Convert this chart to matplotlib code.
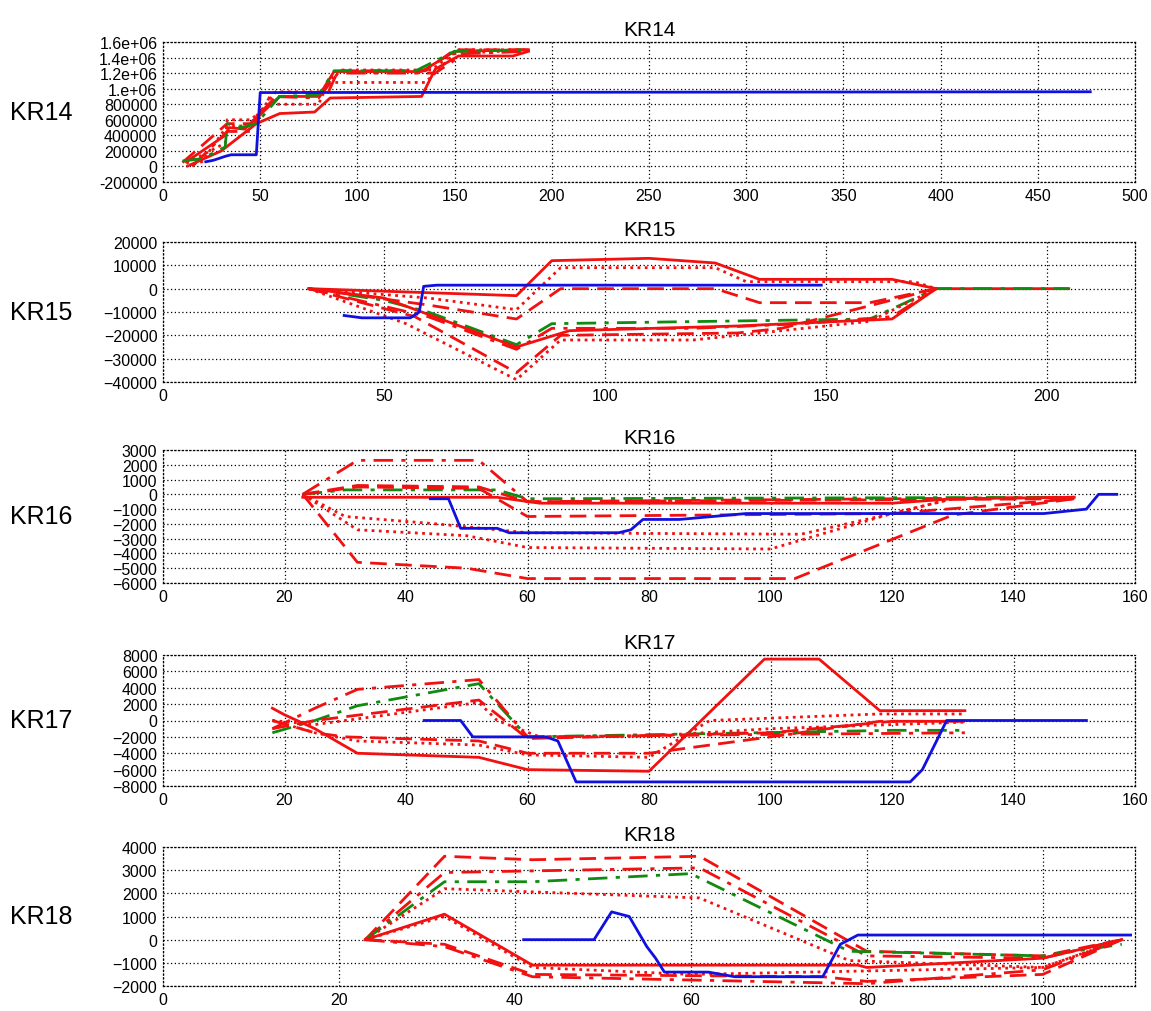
import matplotlib
matplotlib.use('Agg')
import matplotlib.pyplot as plt
from matplotlib.ticker import FixedLocator, FixedFormatter

plt.rcParams['font.family'] = ['Liberation Sans', 'DejaVu Sans']

# ---- data ----
panel_names = ['KR14', 'KR15', 'KR16', 'KR17', 'KR18']

# KR14
kr14_blue_x = [22, 26, 32, 35, 48, 50, 477]
kr14_blue_y = [60000, 80000, 130000, 150000, 150000, 950000, 960000]
kr14_green_x = [10, 20, 32, 33, 40, 48, 60, 80, 88, 130, 150, 188]
kr14_green_y = [70000, 100000, 250000, 550000, 500000, 550000, 900000, 920000, 1230000, 1230000, 1480000, 1500000]
kr14_red_solid_x = [12, 32, 34, 42, 60, 80, 88, 133, 150, 188]
kr14_red_solid_y = [60000, 400000, 500000, 480000, 900000, 900000, 1220000, 1220000, 1480000, 1500000]
kr14_red_solid2_x = [14, 30, 48, 60, 78, 86, 133, 140, 152, 180, 188]
kr14_red_solid2_y = [20000, 200000, 550000, 680000, 700000, 880000, 900000, 1250000, 1420000, 1420000, 1480000]
kr14_red_dot_x = [12, 32, 33, 45, 55, 80, 85, 135, 150, 188]
kr14_red_dot_y = [40000, 300000, 600000, 600000, 800000, 800000, 1080000, 1080000, 1450000, 1500000]
kr14_red_dash_x = [10, 33, 45, 60, 85, 90, 135, 150, 188]
kr14_red_dash_y = [50000, 550000, 550000, 950000, 950000, 1230000, 1230000, 1500000, 1500000]
kr14_red_dashdot_x = [15, 33, 45, 55, 80, 90, 140, 155, 188]
kr14_red_dashdot_y = [0, 450000, 450000, 900000, 880000, 1200000, 1200000, 1450000, 1480000]
kr14_red_dot2_x = [12, 20, 33, 44, 58, 82, 90, 138, 152, 188]
kr14_red_dot2_y = [0, 60000, 520000, 520000, 960000, 960000, 1240000, 1240000, 1500000, 1500000]

# KR15
kr15_blue_x = [41, 45, 56, 58, 59, 62, 149]
kr15_blue_y = [-11500, -12500, -12500, -10000, 1000, 1500, 1500]
kr15_green_x = [33, 50, 60, 80, 88, 160, 175, 205]
kr15_green_y = [0, -5000, -10000, -24000, -15000, -13000, 0, 0]
kr15_red_solid_x = [33, 80, 88, 110, 125, 135, 165, 175, 205]
kr15_red_solid_y = [0, -3000, 12000, 13000, 11000, 4000, 4000, 0, 0]
kr15_red_dot_x = [33, 60, 80, 90, 125, 132, 170, 175]
kr15_red_dot_y = [0, -4000, -9000, 9000, 9000, 3000, 3000, 0]
kr15_red_dash_x = [33, 60, 80, 90, 125, 135, 160, 175]
kr15_red_dash_y = [0, -7000, -13000, 0, 0, -6000, -6000, 0]
kr15_red_dashdot_x = [33, 60, 80, 88, 120, 145, 165, 175]
kr15_red_dashdot_y = [0, -12000, -26000, -17000, -17000, -15000, -12000, 0]
kr15_red_solid2_x = [33, 50, 80, 92, 130, 165, 175]
kr15_red_solid2_y = [0, -4000, -25000, -18000, -16000, -13000, 0]
kr15_red_dash2_x = [33, 57, 80, 90, 130, 140, 175]
kr15_red_dash2_y = [0, -12000, -36000, -20000, -19000, -17000, 0]
kr15_red_dot2_x = [33, 55, 80, 90, 120, 160, 175]
kr15_red_dot2_y = [0, -15000, -39000, -22000, -22000, -14000, 0]

# KR16
kr16_blue_x = [44, 47, 49, 55, 57, 75, 77, 79, 85, 96, 145, 152, 154, 157]
kr16_blue_y = [-300, -300, -2300, -2300, -2600, -2600, -2400, -1700, -1700, -1300, -1300, -1000, 0, 0]
kr16_green_x = [23, 30, 55, 60, 150]
kr16_green_y = [0, 300, 300, -300, -200]
kr16_red_dashdot_x = [23, 32, 52, 60, 150]
kr16_red_dashdot_y = [0, 2300, 2300, -500, -200]
kr16_red_dash_x = [23, 32, 52, 60, 150]
kr16_red_dash_y = [0, 600, 500, -500, -300]
kr16_red_solid_x = [23, 55, 62, 120, 130, 150]
kr16_red_solid_y = [-200, -200, -600, -600, -300, -200]
kr16_red_dash2_x = [23, 32, 52, 60, 120, 150]
kr16_red_dash2_y = [0, 500, 400, -1500, -1300, -300]
kr16_red_dot_x = [23, 30, 45, 60, 105, 120, 130]
kr16_red_dot_y = [0, -1500, -2000, -2600, -2700, -1300, -300]
kr16_red_dot2_x = [23, 32, 50, 60, 100, 120, 130]
kr16_red_dot2_y = [0, -2400, -2800, -3600, -3700, -1300, -300]
kr16_red_dash3_x = [23, 32, 50, 60, 104, 130, 150]
kr16_red_dash3_y = [0, -4600, -5000, -5700, -5700, -1400, -300]

# KR17
kr17_blue_x = [43, 49, 51, 63, 65, 68, 123, 125, 127, 129, 152]
kr17_blue_y = [0, 0, -2000, -2000, -2500, -7500, -7500, -6000, -3000, 0, 0]
kr17_green_x = [18, 25, 32, 52, 60, 120, 132]
kr17_green_y = [-1500, 0, 1800, 4500, -2000, -1200, -1200]
kr17_red_solid_x = [18, 20, 25, 32, 52, 60, 80, 99, 108, 118, 132]
kr17_red_solid_y = [1500, 700, -1000, -4000, -4500, -6000, -6200, 7500, 7500, 1200, 1200]
kr17_red_dot_x = [18, 25, 32, 52, 60, 80, 90, 118, 132]
kr17_red_dot_y = [0, -1500, -2500, -3000, -4200, -4500, 0, 800, 800]
kr17_red_dash_x = [18, 25, 30, 52, 60, 80, 100, 118, 132]
kr17_red_dash_y = [0, -1500, -2000, -2500, -4000, -4000, -2000, -100, -100]
kr17_red_dashdot_x = [18, 25, 32, 52, 60, 100, 132]
kr17_red_dashdot_y = [-1000, 1500, 3800, 5000, -2000, -1700, -1500]
kr17_red_dash2_x = [18, 25, 52, 60, 100, 120, 132]
kr17_red_dash2_y = [-1000, 0, 2500, -2200, -1500, -100, -100]
kr17_red_dot2_x = [18, 25, 52, 55, 62, 80, 100, 132]
kr17_red_dot2_y = [0, -500, 2200, 0, -2000, -1900, -1000, -200]

# KR18
kr18_blue_x = [41, 49, 51, 53, 55, 56, 57, 62, 65, 75, 77, 79, 110]
kr18_blue_y = [0, 0, 1200, 1000, -300, -800, -1400, -1400, -1600, -1600, -200, 200, 200]
kr18_green_x = [23, 32, 42, 60, 78, 100, 109]
kr18_green_y = [0, 2500, 2500, 2850, -500, -700, -200]
kr18_red_dash_x = [23, 32, 42, 61, 80, 100, 109]
kr18_red_dash_y = [0, 3600, 3450, 3600, -500, -700, 0]
kr18_red_dashdot_x = [23, 32, 61, 80, 100, 109]
kr18_red_dashdot_y = [0, 2900, 3100, -700, -800, 0]
kr18_red_dot_x = [23, 32, 61, 78, 100, 109]
kr18_red_dot_y = [0, 2200, 1800, -900, -1200, 0]
kr18_red_solid_x = [23, 32, 42, 79, 80, 100, 109]
kr18_red_solid_y = [0, 1100, -1100, -1100, -1200, -800, 0]
kr18_red_dot2_x = [23, 32, 42, 60, 100, 109]
kr18_red_dot2_y = [0, 1000, -1200, -1500, -1200, 0]
kr18_red_dash2_x = [23, 32, 42, 75, 80, 100, 109]
kr18_red_dash2_y = [0, -200, -1500, -1600, -1800, -1500, 0]
kr18_red_dashdot2_x = [23, 32, 42, 80, 100, 109]
kr18_red_dashdot2_y = [0, -300, -1600, -1900, -1300, 0]

x_limits = [(0, 500), (0, 220), (0, 160), (0, 160), (0, 110.5)]
x_ticks = [list(range(0, 501, 50)), [0, 50, 100, 150, 200], list(range(0, 161, 20)),
           list(range(0, 161, 20)), [0, 20, 40, 60, 80, 100]]
y_ticks = [list(range(-200000, 1600001, 200000)), list(range(-40000, 20001, 10000)),
           list(range(-6000, 3001, 1000)), list(range(-8000, 8001, 2000)),
           list(range(-2000, 4001, 1000))]
kr14_ytick_labels = ['-200000', '0', '200000', '400000', '600000', '800000',
                     '1.e+06', '1.2e+06', '1.4e+06', '1.6e+06']

# ---- styles ----
BLUE = '#1010e0'
GREEN = '#108a10'
RED = '#f21010'
SOLID = '-'
DASH = (0, (6, 3))
DOT = (0, (1, 1.6))
DASHDOT = (0, (7, 3, 1.5, 3))

series = [
    [(kr14_red_solid_x, kr14_red_solid_y, RED, SOLID),
     (kr14_red_solid2_x, kr14_red_solid2_y, RED, SOLID),
     (kr14_red_dot_x, kr14_red_dot_y, RED, DOT),
     (kr14_red_dot2_x, kr14_red_dot2_y, RED, DOT),
     (kr14_red_dash_x, kr14_red_dash_y, RED, DASH),
     (kr14_red_dashdot_x, kr14_red_dashdot_y, RED, DASHDOT),
     (kr14_green_x, kr14_green_y, GREEN, DASHDOT),
     (kr14_blue_x, kr14_blue_y, BLUE, SOLID)],
    [(kr15_red_solid_x, kr15_red_solid_y, RED, SOLID),
     (kr15_red_dot_x, kr15_red_dot_y, RED, DOT),
     (kr15_red_dash_x, kr15_red_dash_y, RED, DASH),
     (kr15_green_x, kr15_green_y, GREEN, DASHDOT),
     (kr15_red_dashdot_x, kr15_red_dashdot_y, RED, DASHDOT),
     (kr15_red_solid2_x, kr15_red_solid2_y, RED, SOLID),
     (kr15_red_dash2_x, kr15_red_dash2_y, RED, DASH),
     (kr15_red_dot2_x, kr15_red_dot2_y, RED, DOT),
     (kr15_blue_x, kr15_blue_y, BLUE, SOLID)],
    [(kr16_red_dashdot_x, kr16_red_dashdot_y, RED, DASHDOT),
     (kr16_red_dash_x, kr16_red_dash_y, RED, DASH),
     (kr16_green_x, kr16_green_y, GREEN, DASHDOT),
     (kr16_red_solid_x, kr16_red_solid_y, RED, SOLID),
     (kr16_red_dash2_x, kr16_red_dash2_y, RED, DASH),
     (kr16_red_dot_x, kr16_red_dot_y, RED, DOT),
     (kr16_red_dot2_x, kr16_red_dot2_y, RED, DOT),
     (kr16_red_dash3_x, kr16_red_dash3_y, RED, DASH),
     (kr16_blue_x, kr16_blue_y, BLUE, SOLID)],
    [(kr17_red_solid_x, kr17_red_solid_y, RED, SOLID),
     (kr17_red_dot_x, kr17_red_dot_y, RED, DOT),
     (kr17_red_dash_x, kr17_red_dash_y, RED, DASH),
     (kr17_green_x, kr17_green_y, GREEN, DASHDOT),
     (kr17_red_dashdot_x, kr17_red_dashdot_y, RED, DASHDOT),
     (kr17_red_dash2_x, kr17_red_dash2_y, RED, DASH),
     (kr17_red_dot2_x, kr17_red_dot2_y, RED, DOT),
     (kr17_blue_x, kr17_blue_y, BLUE, SOLID)],
    [(kr18_red_dash_x, kr18_red_dash_y, RED, DASH),
     (kr18_red_dashdot_x, kr18_red_dashdot_y, RED, DASHDOT),
     (kr18_green_x, kr18_green_y, GREEN, DASHDOT),
     (kr18_red_dot_x, kr18_red_dot_y, RED, DOT),
     (kr18_red_solid_x, kr18_red_solid_y, RED, SOLID),
     (kr18_red_dot2_x, kr18_red_dot2_y, RED, DOT),
     (kr18_red_dash2_x, kr18_red_dash2_y, RED, DASH),
     (kr18_red_dashdot2_x, kr18_red_dashdot2_y, RED, DASHDOT),
     (kr18_blue_x, kr18_blue_y, BLUE, SOLID)],
]

# axes boxes in pixels (top, bottom) of the 1151x1012 canvas
W, H = 1151, 1012
LEFT, RIGHT = 163, 1135
boxes = [(43, 183), (243, 383), (451, 584), (656, 787), (848, 987)]

fig = plt.figure(figsize=(W / 100, H / 100), dpi=100)

for i, name in enumerate(panel_names):
    top, bot = boxes[i]
    ax = fig.add_axes([LEFT / W, 1 - bot / H, (RIGHT - LEFT) / W, (bot - top) / H])
    for xs, ys, col, ls in series[i]:
        ax.plot(xs, ys, color=col, linestyle=ls, linewidth=2.0)
    ax.set_xlim(*x_limits[i])
    ax.set_ylim(y_ticks[i][0], y_ticks[i][-1])
    ax.xaxis.set_major_locator(FixedLocator(x_ticks[i]))
    ax.yaxis.set_major_locator(FixedLocator(y_ticks[i]))
    if i == 0:
        ax.yaxis.set_major_formatter(FixedFormatter(kr14_ytick_labels))
    ax.grid(True, color='black', linestyle=(0, (1, 2)), linewidth=0.9)
    for sp in ax.spines.values():
        sp.set_linestyle((0, (1, 2)))
        sp.set_linewidth(0.9)
    ax.tick_params(length=0, labelsize=11.5, pad=4)
    ax.set_title(name, fontsize=15, pad=5)
    ax.text(-0.125, 0.5, name, transform=ax.transAxes, fontsize=18,
            ha='center', va='center')

fig.savefig('out.png', dpi=100)
